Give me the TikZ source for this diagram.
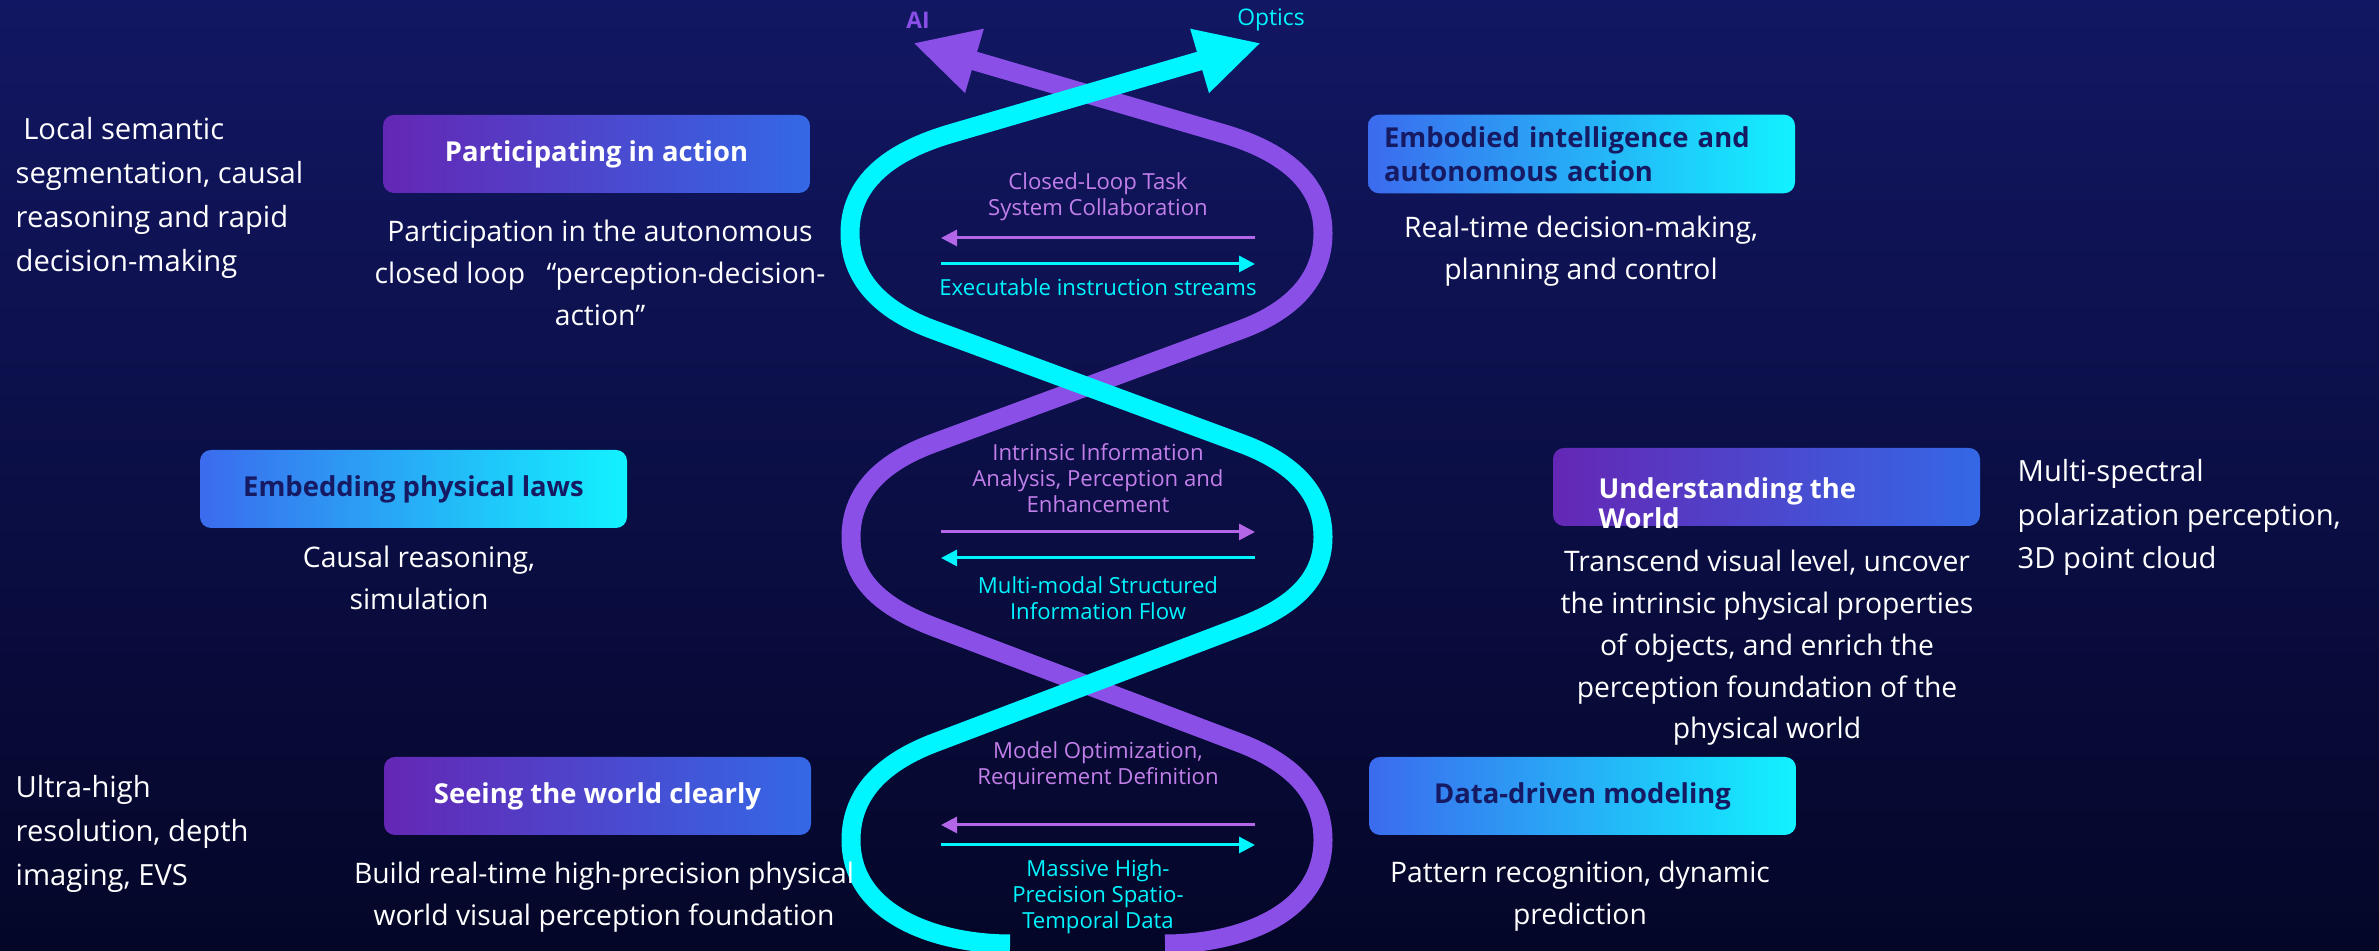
\documentclass[tikz,border=0pt]{standalone}
\usepackage{fontspec}
\setmainfont{Open Sans}
\usetikzlibrary{arrows.meta}

\definecolor{bgtop}{HTML}{121763}
\definecolor{bgbottom}{HTML}{040628}
\definecolor{aistrand}{HTML}{8A4FE6}
\definecolor{opticstrand}{HTML}{00F6FF}
\definecolor{aitext}{HTML}{C27FEA}
\definecolor{aiflow}{HTML}{B466E8}
\definecolor{purplebox}{HTML}{6427B5}
\definecolor{bluebox}{HTML}{3468E6}
\definecolor{lightbluebox}{HTML}{3B6BEE}
\definecolor{cyanbox}{HTML}{12F2FF}
\definecolor{navytext}{HTML}{151A62}

\tikzset{
    box/.style={rounded corners=0.11cm, minimum width=4.27cm, minimum height=0.78cm,
        font=\fontsize{7.8}{9}\selectfont\bfseries},
    pbox/.style={box, left color=purplebox, right color=bluebox, text=white},
    cbox/.style={box, left color=lightbluebox, right color=cyanbox, text=navytext},
    desc/.style={text=white, align=center, inner sep=0pt, font=\fontsize{8.05}{11.9}\selectfont},
    side/.style={text=white, align=left, anchor=west, inner sep=0pt, font=\fontsize{8.3}{12.5}\selectfont},
    ailabel/.style={text=aitext, align=center, inner sep=0pt, font=\fontsize{6.3}{7.4}\selectfont},
    opticslabel/.style={ailabel, text=opticstrand},
    strand/.style={line width=0.19cm},
    flow/.style={line width=0.03cm, ->}
}

\begin{document}
\begin{tikzpicture}[>={Triangle[length=0.16cm,width=0.16cm]}]
    \useasboundingbox (0,0) rectangle (23.79,9.51);
    \clip (0,0) rectangle (23.79,9.51);
    \shade[top color=bgtop, bottom color=bgbottom] (0,0) rectangle (23.79,9.51);

    % the two strands, optics on top
    \draw[strand, aistrand, -{Triangle[length=0.64cm,width=0.62cm]}]
        (11.65,0.07) to[out=0,in=-90] (13.23,1.11) to[out=90,in=-21] (12.40,2.08)
        -- (9.34,3.24) to[out=159,in=-90] (8.51,4.14) to[out=90,in=200] (9.34,5.08)
        -- (12.40,6.21) to[out=20,in=-90] (13.23,7.18) to[out=90,in=-16] (12.21,8.18)
        -- (9.13,9.08);
    \draw[strand, opticstrand, -{Triangle[length=0.64cm,width=0.62cm]}]
        (10.10,0.07) to[out=180,in=-90] (8.51,1.11) to[out=90,in=201] (9.34,2.08)
        -- (12.40,3.24) to[out=21,in=-90] (13.23,4.14) to[out=90,in=-20] (12.40,5.08)
        -- (9.34,6.21) to[out=160,in=-90] (8.50,7.18) to[out=90,in=196] (9.53,8.18)
        -- (12.61,9.08);
    \node[text=aistrand, inner sep=0pt, font=\fontsize{6.5}{7}\selectfont\bfseries] (ai) at (9.18,9.31) {AI};
    \node[text=opticstrand, inner sep=0pt, font=\fontsize{6.5}{7}\selectfont] (optics) at (12.71,9.31) {Optics};

    % exchange between the strands
    \node[ailabel] (closedloop) at (10.98,7.545) {Closed-Loop Task\\System Collaboration};
    \node[opticslabel] (streams) at (10.98,6.64) {Executable instruction streams};
    \node[ailabel] (intrinsic) at (10.98,4.73) {Intrinsic Information\\Analysis, Perception and\\Enhancement};
    \node[opticslabel] (multimodal) at (10.98,3.525) {Multi-modal Structured\\Information Flow};
    \node[ailabel] (modelopt) at (10.98,1.85) {Model Optimization,\\Requirement Definition};
    \node[opticslabel] (massive) at (10.98,0.54) {Massive High-\\Precision Spatio-\\Temporal Data};

    \coordinate (l1) at (9.41,7.13);  \coordinate (r1) at (12.55,7.13);
    \coordinate (l2) at (9.41,6.87);  \coordinate (r2) at (12.55,6.87);
    \coordinate (l3) at (9.41,4.19);  \coordinate (r3) at (12.55,4.19);
    \coordinate (l4) at (9.41,3.93);  \coordinate (r4) at (12.55,3.93);
    \coordinate (l5) at (9.41,1.26);  \coordinate (r5) at (12.55,1.26);
    \coordinate (l6) at (9.41,1.06);  \coordinate (r6) at (12.55,1.06);
    \draw[flow, aiflow] (r1) -- (l1);
    \draw[flow, opticstrand] (l2) -- (r2);
    \draw[flow, aiflow] (l3) -- (r3);
    \draw[flow, opticstrand] (r4) -- (l4);
    \draw[flow, aiflow] (r5) -- (l5);
    \draw[flow, opticstrand] (l6) -- (r6);

    % AI side
    \node[pbox] (action) at (5.965,7.97) {Participating in action};
    \node[desc] (actiondesc) at (6.00,6.78) {Participation in the autonomous\\closed loop\enspace\ “perception-decision-\\action”};
    \node[cbox] (laws) at (4.135,4.62) {Embedding physical laws};
    \node[desc] (lawsdesc) at (4.19,3.73) {Causal reasoning,\\simulation};
    \node[pbox] (seeing) at (5.975,1.55) {Seeing the world clearly};
    \node[desc] (seeingdesc) at (6.04,0.535) {Build real-time high-precision physical\\world visual perception foundation};

    % optics side
    \node[cbox, text width=3.95cm, align=left, inner xsep=0.16cm, font=\fontsize{7.8}{9.7}\selectfont\bfseries] (embodied) at (15.815,7.97) {Embodied intelligence and\\autonomous action};
    \node[desc] (embodieddesc) at (15.81,7.00) {Real-time decision-making,\\planning and control};
    \node[pbox] (world) at (17.665,4.64) {};
    \node[anchor=west, align=left, text=white, inner sep=0pt, font=\fontsize{7.8}{8.6}\selectfont\bfseries] (worldtitle) at (15.98,4.48) {Understanding the\\World};
    \node[desc] (worlddesc) at (17.67,3.03) {Transcend visual level, uncover\\the intrinsic physical properties\\of objects, and enrich the\\perception foundation of the\\physical world};
    \node[cbox] (datadriven) at (15.825,1.55) {Data-driven modeling};
    \node[desc] (datadesc) at (15.80,0.55) {Pattern recognition, dynamic\\prediction};

    % outer notes
    \node[side] (semantic) at (0.15,7.53) {\ Local semantic\\segmentation, causal\\reasoning and rapid\\decision-making};
    \node[side] (imaging) at (0.15,1.17) {Ultra-high\\resolution, depth\\imaging, EVS};
    \node[side] (spectral) at (20.17,4.335) {Multi-spectral\\polarization perception,\\3D point cloud};
\end{tikzpicture}
\end{document}
